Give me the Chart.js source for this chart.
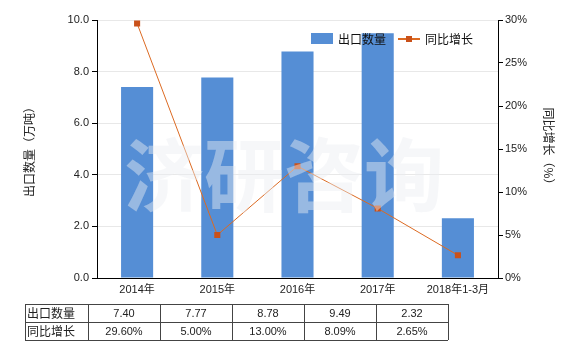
<!DOCTYPE html>
<html>
<head>
<meta charset="utf-8">
<script src="https://cdn.jsdelivr.net/npm/chart.js@4.4.0/dist/chart.umd.min.js"></script>
<style>
  html, body { margin: 0; padding: 0; background: #fff; }
  #wrap { width: 580px; height: 350px; position: relative; }
</style>
</head>
<body>
<div id="wrap"><canvas id="chart" width="580" height="350"></canvas></div>
<script>
// données
const categories = ["2014年", "2015年", "2016年", "2017年", "2018年1-3月"];
const exportQty = [7.40, 7.77, 8.78, 9.49, 2.32];   // 万吨
const yoyGrowth = [29.60, 5.00, 13.00, 8.09, 2.65];   // %
const qtyLabel = "出口数量";
const growthLabel = "同比增长";

const FONT = '"Liberation Sans", Arial, "Noto Sans CJK SC", sans-serif';
const CJK = '"Noto Sans CJK SC", "Liberation Sans", sans-serif';
const BAR_COLOR = "#558ED5";
const LINE_COLOR = "#DC6A22";
const POINT_COLOR = "#C9511A";

// watermark + légende + tableau dessinés à la main
const extrasPlugin = {
  id: "extras",
  afterDraw(chart) {
    const ctx = chart.ctx;
    ctx.save();

    // filigrane
    ctx.font = "bold 80px " + CJK;
    ctx.fillStyle = "rgba(236,238,242,0.45)";
    ctx.textAlign = "center";
    ctx.textBaseline = "middle";
    ctx.fillText("济研咨询", 284, 175);

    // légende
    ctx.font = "12px " + CJK;
    ctx.textAlign = "left";
    ctx.fillStyle = BAR_COLOR;
    ctx.fillRect(311, 33, 22, 11);
    ctx.fillStyle = "#111";
    ctx.fillText(qtyLabel, 338, 39);
    ctx.strokeStyle = LINE_COLOR;
    ctx.lineWidth = 2;
    ctx.beginPath();
    ctx.moveTo(398, 39);
    ctx.lineTo(420, 39);
    ctx.stroke();
    ctx.fillStyle = POINT_COLOR;
    ctx.fillRect(406, 36, 6, 6);
    ctx.fillStyle = "#111";
    ctx.fillText(growthLabel, 425, 39);

    // tableau sous le graphique
    const cols = [25, 88, 160, 232, 304, 376, 448];
    const rows = [304, 322, 340];
    ctx.strokeStyle = "#444";
    ctx.lineWidth = 1;
    ctx.beginPath();
    rows.forEach(y => { ctx.moveTo(cols[0], y + 0.5); ctx.lineTo(cols[cols.length - 1], y + 0.5); });
    cols.forEach(x => { ctx.moveTo(x + 0.5, rows[0]); ctx.lineTo(x + 0.5, rows[rows.length - 1]); });
    ctx.stroke();

    ctx.fillStyle = "#222";
    ctx.font = "12px " + CJK;
    ctx.textAlign = "left";
    ctx.fillText(qtyLabel, cols[0] + 2, (rows[0] + rows[1]) / 2);
    ctx.fillText(growthLabel, cols[0] + 2, (rows[1] + rows[2]) / 2);
    ctx.font = "11px " + FONT;
    ctx.textAlign = "center";
    for (let i = 0; i < categories.length; i++) {
      const cx = (cols[i + 1] + cols[i + 2]) / 2;
      ctx.fillText(exportQty[i].toFixed(2), cx, (rows[0] + rows[1]) / 2 + 1);
      ctx.fillText(yoyGrowth[i].toFixed(2) + "%", cx, (rows[1] + rows[2]) / 2 + 1);
    }
    ctx.restore();
  }
};

const chart = new Chart(document.getElementById("chart"), {
  type: "bar",
  data: {
    labels: categories,
    datasets: [
      {
        type: "line",
        label: growthLabel,
        data: yoyGrowth,
        yAxisID: "y1",
        borderColor: LINE_COLOR,
        borderWidth: 1,
        pointStyle: "rect",
        pointRadius: 4.3,
        pointBackgroundColor: POINT_COLOR,
        pointBorderWidth: 0,
        tension: 0,
        fill: false,
        order: 0
      },
      {
        label: qtyLabel,
        data: exportQty,
        yAxisID: "y",
        backgroundColor: BAR_COLOR,
        categoryPercentage: 1,
        barPercentage: 0.4,
        order: 1
      }
    ]
  },
  options: {
    responsive: false,
    animation: false,
    layout: { padding: { top: 20, left: 0, right: 0, bottom: 0 } },
    plugins: {
      legend: { display: false },
      tooltip: { enabled: false }
    },
    scales: {
      x: {
        grid: { display: false, drawTicks: false },
        border: { color: "#000", width: 1 },
        ticks: { color: "#222", font: { size: 11, family: FONT }, padding: 5, maxRotation: 0 },
        afterFit(scale) { scale.height = 72; }
      },
      y: {
        position: "left",
        min: 0,
        max: 10,
        ticks: {
          stepSize: 2,
          color: "#222",
          font: { size: 11, family: FONT },
          padding: 3,
          callback: v => v.toFixed(1)
        },
        grid: { color: "#e8e8e8", tickColor: "#000", tickLength: 5 },
        border: { color: "#000", width: 1 },
        title: {
          display: true,
          text: "出口数量（万吨）",
          color: "#222",
          font: { size: 12, family: CJK },
          padding: { top: 22, bottom: 0 }
        },
        afterFit(scale) { scale.width = 97; }
      },
      y1: {
        position: "right",
        min: 0,
        max: 30,
        ticks: {
          stepSize: 5,
          color: "#222",
          font: { size: 11, family: FONT },
          padding: 2,
          callback: v => v + "%"
        },
        grid: { drawOnChartArea: false, tickColor: "#000", tickLength: 5 },
        border: { color: "#000", width: 1 },
        title: {
          display: true,
          text: "同比增长（%）",
          color: "#222",
          font: { size: 12, family: CJK },
          padding: { top: 24, bottom: 0 }
        },
        afterFit(scale) { scale.width = 82; }
      }
    }
  },
  plugins: [extrasPlugin]
});
</script>
</body>
</html>
